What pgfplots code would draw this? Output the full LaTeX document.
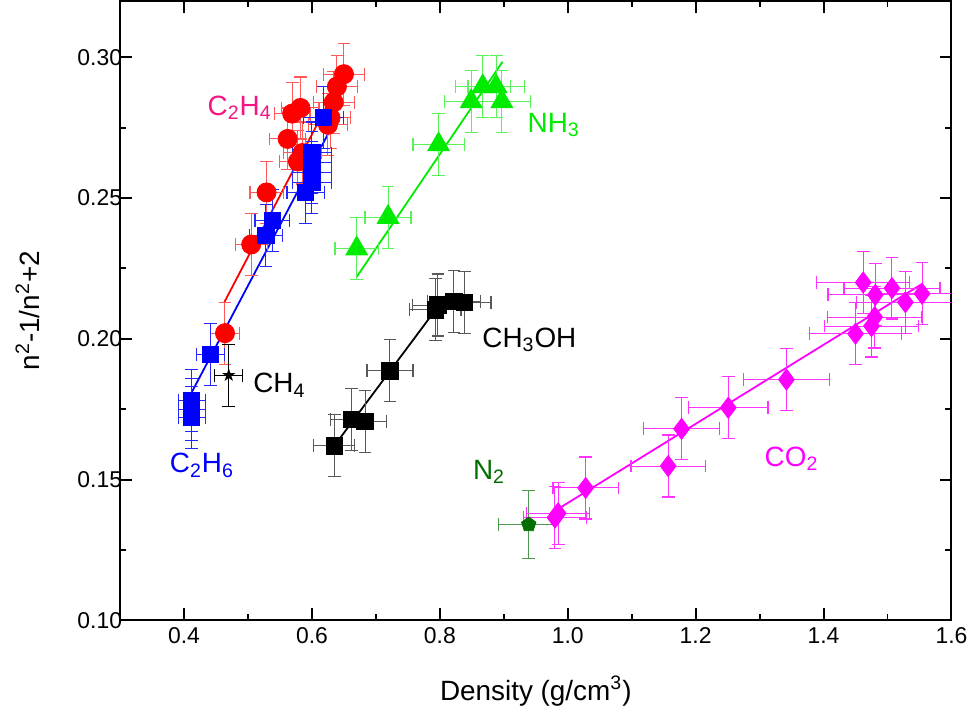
\documentclass[border={4.5pt 0pt 0pt 0pt}]{standalone}
\usepackage{pgfplots}
\pgfplotsset{compat=1.18}
\usepackage{fontspec}
\setmainfont{Liberation Sans}
\newfontfamily\symfont{DejaVu Sans}

\definecolor{cred}{RGB}{255,0,0}
\definecolor{cblue}{RGB}{0,0,255}
\definecolor{cgreen}{RGB}{0,235,0}
\definecolor{cmag}{RGB}{255,0,255}
\definecolor{cdkgreen}{RGB}{0,110,0}
\definecolor{cpink}{RGB}{245,20,130}

% error bars in colour #1
\pgfplotsset{
  errs/.style={
    error bars/.cd,
      x dir=both, x explicit, y dir=both, y explicit,
      error bar style={line width=0.5pt, #1},
      error mark options={rotate=90, mark size=3.2pt, line width=0.6pt, #1},
  },
}

\begin{document}
\begin{tikzpicture}
\begin{axis}[
    width=417.5pt, height=311pt, scale only axis,
    xmin=0.3, xmax=1.6, ymin=0.10, ymax=0.32,
    xtick={0.4,0.6,...,1.6},
    ytick={0.10,0.15,...,0.30},
    minor x tick num=1, minor y tick num=1,
    tick align=inside,
    major tick length=6pt, minor tick length=3pt,
    axis line style={line width=1pt},
    every tick/.style={black, line width=1pt},
    tick label style={font=\fontsize{11.5}{13}\selectfont},
    xticklabel style={/pgf/number format/.cd, fixed, fixed zerofill, precision=1},
    yticklabel style={xshift=4.5pt, /pgf/number format/.cd, fixed, fixed zerofill, precision=2},
    /pgf/number format/assume math mode=true,
    xlabel={Density (g/cm\textsuperscript{3})},
    ylabel={n\textsuperscript{2}-1/n\textsuperscript{2}+2},
    label style={font=\fontsize{14}{16}\selectfont},
    xlabel style={yshift=-9.5pt},
    ylabel style={yshift=12pt},
]

% fit lines
\addplot[cred, line width=0.9pt] coordinates {(0.463,0.213) (0.640,0.290)};
\addplot[cblue, line width=0.9pt] coordinates {(0.412,0.181) (0.625,0.2727)};
\addplot[cgreen, line width=0.9pt] coordinates {(0.670,0.222) (0.898,0.2984)};
\addplot[black, line width=0.9pt] coordinates {(0.635,0.162) (0.812,0.216)};
\addplot[cmag, line width=0.9pt] coordinates {(0.981,0.139) (1.554,0.2195)};

% C2H4
\addplot[only marks, mark=*, mark size=4.8pt, cred, mark options={fill=cred},
  errs={cred!65}] coordinates {
  (0.464,0.202) +- (0.023,0.011)
  (0.505,0.2335) +- (0.025,0.011)
  (0.529,0.252) +- (0.026,0.011)
  (0.562,0.271) +- (0.028,0.011)
  (0.569,0.280) +- (0.028,0.011)
  (0.582,0.282) +- (0.029,0.011)
  (0.578,0.263) +- (0.029,0.011)
  (0.585,0.266) +- (0.029,0.011)
  (0.625,0.276) +- (0.031,0.011)
  (0.629,0.2785) +- (0.031,0.011)
  (0.634,0.284) +- (0.032,0.011)
  (0.639,0.2896) +- (0.032,0.011)
  (0.650,0.294) +- (0.032,0.011)
};

% C2H6
\addplot[only marks, mark=square*, mark size=4.1pt, cblue, mark options={fill=cblue},
  errs={cblue!85}] coordinates {
  (0.412,0.172) +- (0.021,0.011)
  (0.412,0.175) +- (0.021,0.011)
  (0.412,0.178) +- (0.021,0.011)
  (0.441,0.1945) +- (0.022,0.011)
  (0.528,0.2367) +- (0.026,0.011)
  (0.538,0.242) +- (0.027,0.011)
  (0.590,0.252) +- (0.029,0.011)
  (0.600,0.2555) +- (0.030,0.011)
  (0.600,0.259) +- (0.030,0.011)
  (0.600,0.2625) +- (0.030,0.011)
  (0.600,0.266) +- (0.030,0.011)
  (0.618,0.2787) +- (0.031,0.011)
};

% NH3
\addplot[only marks, mark=triangle*, mark size=6.3pt, cgreen, mark options={fill=cgreen},
  errs={cgreen!65}] coordinates {
  (0.670,0.232) +- (0.034,0.011)
  (0.719,0.2432) +- (0.036,0.011)
  (0.798,0.269) +- (0.040,0.011)
  (0.849,0.2843) +- (0.042,0.011)
  (0.867,0.2896) +- (0.043,0.011)
  (0.888,0.2896) +- (0.044,0.011)
  (0.897,0.2843) +- (0.045,0.011)
};

% CH3OH
\addplot[only marks, mark=square*, mark size=4.1pt, black, mark options={fill=black},
  errs={black!65}] coordinates {
  (0.635,0.162) +- (0.032,0.011)
  (0.662,0.1714) +- (0.033,0.011)
  (0.683,0.1707) +- (0.034,0.011)
  (0.722,0.1886) +- (0.036,0.011)
  (0.793,0.2103) +- (0.040,0.011)
  (0.797,0.212) +- (0.040,0.011)
  (0.822,0.2133) +- (0.041,0.011)
  (0.838,0.2129) +- (0.042,0.011)
};

% CH4
\addplot[only marks, mark=text, text mark={\symfont\fontsize{9}{9}\selectfont ★},
  black, errs={black}] coordinates {
  (0.470,0.187) +- (0.022,0.011)
};

% N2
\addplot[only marks, mark=pentagon*, mark size=3.8pt, cdkgreen, mark options={fill=cdkgreen},
  errs={cdkgreen!70}] coordinates {
  (0.939,0.134) +- (0.047,0.012)
};

% CO2
\addplot[only marks, mark=diamond*, mark size=5.3pt, cmag, mark options={fill=cmag},
  errs={cmag!80}] coordinates {
  (0.980,0.1365) +- (0.049,0.011)
  (0.985,0.138) +- (0.049,0.011)
  (1.028,0.147) +- (0.051,0.011)
  (1.157,0.1548) +- (0.058,0.011)
  (1.178,0.168) +- (0.059,0.011)
  (1.251,0.1755) +- (0.062,0.011)
  (1.342,0.1855) +- (0.067,0.011)
  (1.450,0.2018) +- (0.072,0.011)
  (1.475,0.2045) +- (0.074,0.011)
  (1.480,0.2077) +- (0.074,0.011)
  (1.462,0.220) +- (0.073,0.011)
  (1.481,0.2156) +- (0.074,0.011)
  (1.507,0.218) +- (0.075,0.011)
  (1.528,0.213) +- (0.076,0.011)
  (1.554,0.216) +- (0.077,0.011)
};

% labels
\begin{scope}[font=\fontsize{14}{16}\selectfont]
\node[cpink] at (axis cs:0.487,0.282) {C\textsubscript{2}H\textsubscript{4}};
\node[cgreen] at (axis cs:0.978,0.276) {NH\textsubscript{3}};
\node[cblue] at (axis cs:0.428,0.155) {C\textsubscript{2}H\textsubscript{6}};
\node[black] at (axis cs:0.549,0.1835) {CH\textsubscript{4}};
\node[black] at (axis cs:0.940,0.1996) {CH\textsubscript{3}OH};
\node[cdkgreen] at (axis cs:0.877,0.1528) {N\textsubscript{2}};
\node[cmag] at (axis cs:1.350,0.1574) {CO\textsubscript{2}};
\end{scope}
\end{axis}
\end{tikzpicture}
\end{document}
